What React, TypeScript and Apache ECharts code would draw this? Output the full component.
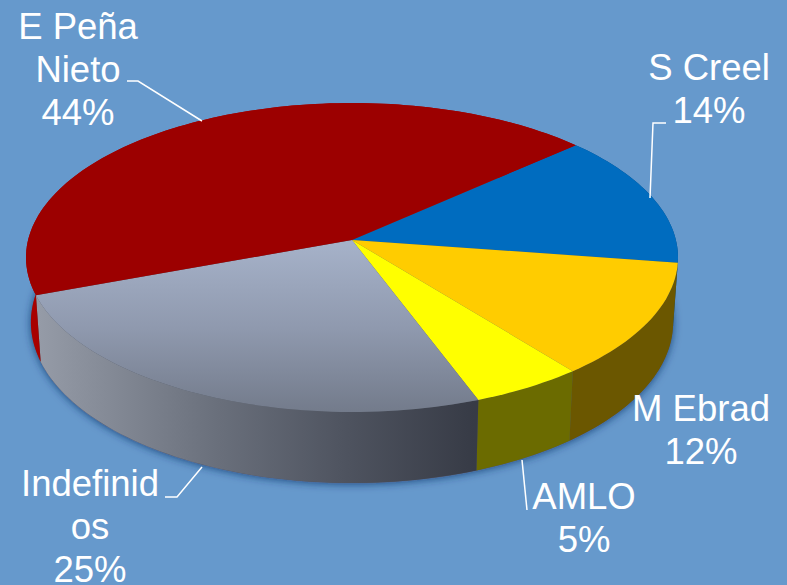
import React, { useEffect, useRef } from "react";
import * as echarts from "echarts";

// Data, clockwise from the S Creel slice
const names = ["S Creel", "M Ebrad", "AMLO", "Indefinid\nos", "E Peña\nNieto"];
const shares = [14, 12, 5, 25, 44];

// Styles
const BG = "#6699CC";
const topFill: any[] = [
  "#006CBF",
  "#FFCC00",
  "#FFFF00",
  new echarts.graphic.LinearGradient(0, 245, 0, 412, [
    { offset: 0, color: "#A5B1C8" },
    { offset: 0.5, color: "#8F99AE" },
    { offset: 1, color: "#737B8B" },
  ], true),
  "#9C0000",
];
const wallFill: any[] = [
  "#004A85",
  "#6B5700",
  "#6B6B00",
  new echarts.graphic.LinearGradient(35, 0, 474, 0, [
    { offset: 0, color: "#969CA8" },
    { offset: 0.4, color: "#6B717D" },
    { offset: 0.7, color: "#4F5460" },
    { offset: 1, color: "#373B46" },
  ], true),
  "#A80000",
];

// Layout: pie projection and label placement
const START_DEG = 48;
const CX = 352, APEX_Y = 240, C = 323.9, A = 125.3, K = -0.1133;
const labelPos = [
  { x: 709, y: 46 },
  { x: 701, y: 387 },
  { x: 584, y: 475 },
  { x: 90, y: 462 },
  { x: 78, y: 5 },
];
const leaders = [
  [[666, 123], [653, 123], [650, 198]],
  [[522, 460], [527, 510]],
  [[165, 497], [177, 497], [202, 467]],
  [[127, 81], [138, 81], [202, 121]],
];

const total = shares.reduce((a, b) => a + b, 0);
const project = (deg: number, bottom: boolean): number[] => {
  const t = (deg * Math.PI) / 180;
  const u = Math.sin(t), v = -Math.cos(t);
  const den = 1 + K * v;
  const x = (C * u) / den;
  const y = (APEX_Y + A * v) / den;
  return bottom ? [CX + 0.985 * x, y + 64 + 7 * v] : [CX + x, y];
};
const sliceRange = (i: number): number[] => {
  const before = shares.slice(0, i).reduce((a, b) => a + b, 0);
  return [START_DEG + (before / total) * 360, START_DEG + ((before + shares[i]) / total) * 360];
};
const arc = (a: number, b: number, bottom: boolean): number[][] => {
  const n = Math.max(2, Math.ceil((b - a) / 1.5));
  const out: number[][] = [];
  for (let j = 0; j <= n; j++) out.push(project(a + ((b - a) * j) / n, bottom));
  return out;
};

export default function App() {
  const ref = useRef<HTMLDivElement>(null);
  useEffect(() => {
    document.body.style.margin = "0";
    const chart = echarts.init(ref.current!, undefined, { renderer: "svg" });
    const graphicEls: any[] = [];
    names.forEach((n, i) => {
      graphicEls.push({
        type: "text",
        x: labelPos[i].x,
        y: labelPos[i].y,
        z: 10,
        style: {
          text: `${n}\n${shares[i]}%`,
          fill: "#FFFFFF",
          font: '36.5px "Liberation Sans", Arial, sans-serif',
          lineHeight: 43,
          align: "center",
          verticalAlign: "top",
        },
      });
    });
    leaders.forEach((pts) => {
      graphicEls.push({
        type: "polyline",
        z: 10,
        shape: { points: pts },
        style: { stroke: "#FFFFFF", lineWidth: 1.5, fill: "none" },
      });
    });
    chart.setOption({
      animation: false,
      backgroundColor: BG,
      graphic: graphicEls,
      series: [
        {
          type: "custom",
          coordinateSystem: "none",
          z: 1,
          silent: true,
          data: [total],
          renderItem: () => ({
            type: "polygon",
            shape: { points: arc(0, 360, true) },
            style: { fill: "#4F5460", shadowBlur: 9, shadowColor: "rgba(15,45,100,0.75)", shadowOffsetY: 1 },
          }),
        },
        {
          type: "custom",
          coordinateSystem: "none",
          z: 2,
          silent: true,
          data: shares,
          renderItem: (p: any) => {
            const [a, b] = sliceRange(p.dataIndex);
            return {
              type: "polygon",
              shape: { points: [...arc(a, b, false), ...arc(a, b, true).reverse()] },
              style: { fill: wallFill[p.dataIndex] },
            };
          },
        },
        {
          type: "custom",
          coordinateSystem: "none",
          z: 3,
          silent: true,
          data: shares,
          renderItem: (p: any) => {
            const [a, b] = sliceRange(p.dataIndex);
            return {
              type: "polygon",
              shape: { points: [[CX, APEX_Y], ...arc(a, b, false)] },
              style: { fill: topFill[p.dataIndex] },
            };
          },
        },
      ],
    });
    return () => chart.dispose();
  }, []);
  return <div ref={ref} style={{ position: "fixed", left: 0, top: 0, width: 787, height: 585 }} />;
}
